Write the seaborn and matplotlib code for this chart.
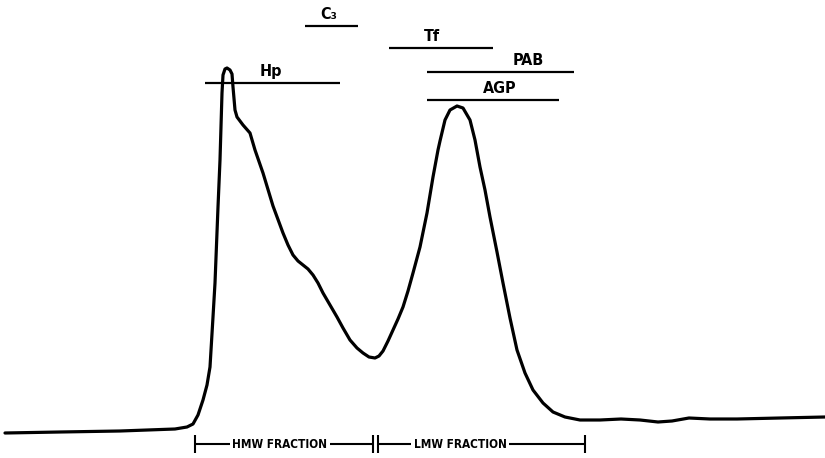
import matplotlib
matplotlib.use("Agg")
import matplotlib.pyplot as plt
import seaborn as sns
import pandas as pd

# ---- data: elution profile (position, detector response) ----
elution_pos = [5, 60, 120, 175, 187, 193, 198, 203, 207, 210, 213, 215, 218, 220, 222, 223, 225, 227,
               230, 232, 233, 235, 237, 243, 250, 255, 263, 273, 283, 288, 293, 298, 303, 308, 313, 318, 323,
               330, 337, 343, 350, 357, 363, 369, 375, 379, 383, 388, 393, 398, 403, 408, 413, 420, 427, 433,
               438, 440, 445, 450, 457, 463, 470, 475, 480, 485, 490, 497, 503, 510, 517, 525, 533, 543,
               553, 565, 580, 600, 621, 640, 658, 672, 689, 710, 737, 780, 825]
response_px = [433, 432, 431, 429, 427, 424, 415, 400, 385, 367, 317, 283, 207, 160, 93, 75, 69, 68,
               70, 74, 87, 110, 117, 125, 133, 150, 173, 206, 233, 245, 255, 261, 265, 269, 275, 283, 293,
               305, 317, 328, 340, 348, 353, 357, 358, 356, 351, 341, 330, 319, 307, 291, 273, 247, 213, 177,
               150, 141, 120, 110, 106, 108, 120, 140, 167, 190, 217, 252, 283, 318, 350, 373, 390, 403,
               412, 417, 420, 420, 419, 420, 422, 421, 418, 419, 419, 418, 417]
response = [458 - v for v in response_px]

# ---- protein elution ranges ----
protein_names = ["C₃", "Tf", "PAB", "AGP", "Hp"]
protein_start = [305, 389, 427, 427, 205]
protein_end = [358, 493, 574, 559, 340]
protein_level = [458 - 26, 458 - 48, 458 - 72, 458 - 100, 458 - 83]
label_x = [329, 432, 528, 500, 271]

# ---- fractions ----
fraction_names = ["HMW FRACTION", "LMW FRACTION"]
fraction_start = [195, 378]
fraction_end = [373, 585]

df = pd.DataFrame({"position": elution_pos, "response": response})

sns.set_theme(style="white")
plt.rcParams["font.family"] = ["DejaVu Sans"]

fig = plt.figure(figsize=(8.25, 4.58), dpi=100)
ax = fig.add_axes([0, 0, 1, 1])
sns.lineplot(data=df, x="position", y="response", sort=False, estimator=None,
             color="black", linewidth=2.3, ax=ax)
ax.lines[-1].set_solid_capstyle("round")
ax.lines[-1].set_solid_joinstyle("round")

# protein bars and labels
ax.hlines(protein_level, protein_start, protein_end, color="black", linewidth=1.6)
for name, lx, lv in zip(protein_names, label_x, protein_level):
    ax.text(lx, lv + 4, name, ha="center", va="bottom", fontsize=11.5,
            fontweight="bold", fontstretch="condensed", color="black")

# fraction brackets
by = 458 - 444
bh = 9
for fs, fe in zip(fraction_start, fraction_end):
    ax.vlines([fs, fe], by - bh, by + bh, color="black", linewidth=1.5)
    ax.hlines(by, fs, fe, color="black", linewidth=1.5)
text_center = [280, 460]
for name, tc in zip(fraction_names, text_center):
    ax.text(tc, by, name, ha="center", va="center", fontsize=8.5,
            fontweight="bold", fontstretch="condensed", color="black",
            bbox=dict(facecolor="white", edgecolor="none", pad=2.0))

ax.set_xlim(0, 825)
ax.set_ylim(0, 458)
ax.axis("off")
fig.savefig("out.png", dpi=100)
